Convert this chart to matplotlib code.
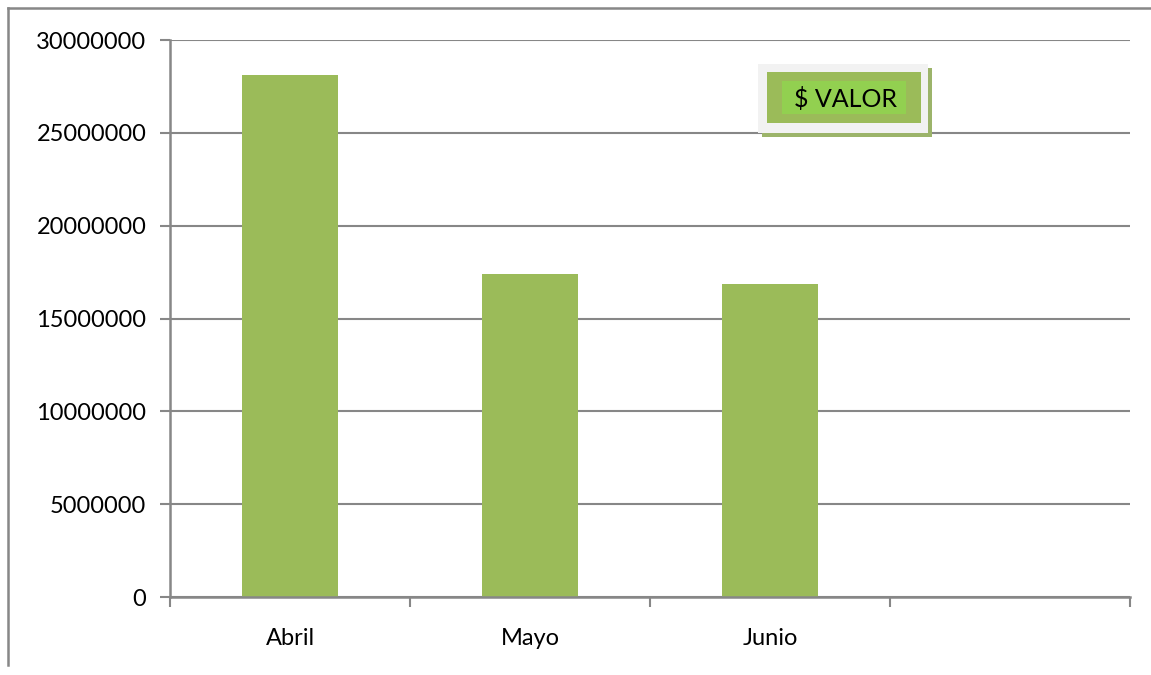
import matplotlib
matplotlib.use("Agg")
import matplotlib.pyplot as plt
from matplotlib.patches import Rectangle
from matplotlib.lines import Line2D

categories = ["Abril", "Mayo", "Junio", ""]
valores = [28100000, 17400000, 16850000, None]
yticks = [0, 5000000, 10000000, 15000000, 20000000, 25000000, 30000000]
serie = "$ VALOR"

plt.rcParams['font.family'] = ['Lato', 'DejaVu Sans']
W, H = 1151, 675
fig = plt.figure(figsize=(W / 100, H / 100), dpi=100)
fig.patch.set_facecolor('white')

ax = fig.add_axes([170 / W, 1 - 597 / H, 960 / W, 557 / H])
gray = '#878787'
bar_color = '#9BBB59'

xs = list(range(len(categories)))
for x, v in zip(xs, valores):
    if v is not None:
        ax.bar(x, v, width=0.4, color=bar_color, zorder=3)

ax.set_xlim(-0.5, len(categories) - 0.5)
ax.set_ylim(0, 30000000)
ax.set_yticks(yticks)
ax.set_yticklabels([str(t) for t in yticks], fontsize=17)
ax.set_xticks(xs)
ax.set_xticklabels(categories, fontsize=17)
ax.set_xticks([i - 0.5 for i in range(len(categories) + 1)], minor=True)
ax.tick_params(axis='x', which='major', length=0, pad=22)
ax.tick_params(axis='x', which='minor', length=7, width=1.5, color=gray, direction='out')
ax.tick_params(axis='y', length=7, width=1.5, color=gray, pad=10)
ax.grid(axis='y', color=gray, linewidth=1.5, zorder=0)
for s in ['top', 'right']:
    ax.spines[s].set_visible(False)
for s in ['left', 'bottom']:
    ax.spines[s].set_color(gray)
    ax.spines[s].set_linewidth(1.8)
    ax.spines[s].set_zorder(4)

# outer chart border (top and left)
fig.add_artist(Line2D([8 / W, 1], [1 - 8 / H, 1 - 8 / H], color=gray, linewidth=1.8, transform=fig.transFigure))
fig.add_artist(Line2D([8 / W, 8 / W], [1 - 8 / H, 1 - 665 / H], color=gray, linewidth=1.8, transform=fig.transFigure))

def frect(x0, y0, x1, y1, **kw):
    fig.add_artist(Rectangle((x0 / W, 1 - y1 / H), (x1 - x0) / W, (y1 - y0) / H,
                             transform=fig.transFigure, **kw))

# legend box
frect(762, 68, 932, 137, facecolor='#9CB46A', edgecolor='none', hatch='++++', zorder=5)
frect(758, 64, 928, 133, facecolor='#F2F2F2', edgecolor='none', zorder=6)
frect(767, 72, 921, 123, facecolor=bar_color, edgecolor='none', zorder=7)
frect(782, 81, 906, 114, facecolor='#92D050', edgecolor='none', zorder=8)
fig.text(846 / W, 1 - 99 / H, serie, fontsize=18, ha='center', va='center', color='black', zorder=9)

fig.savefig("out.png", dpi=100)
